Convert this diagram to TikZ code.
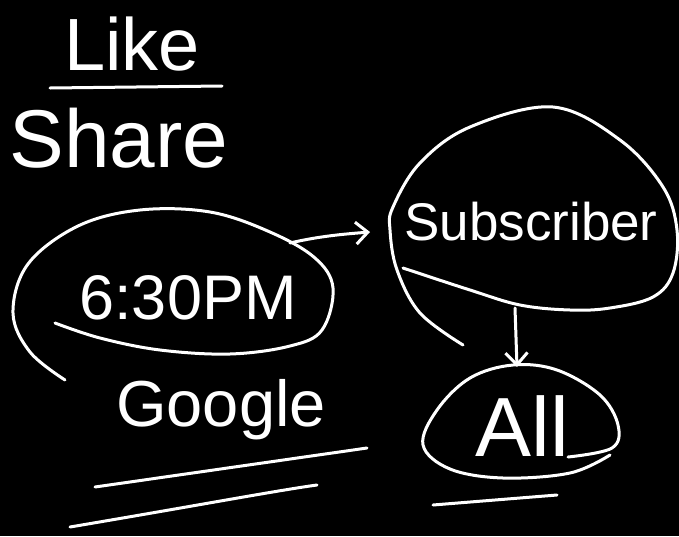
\documentclass[tikz,border=0pt]{standalone}
\usepackage{fontspec}
\setmainfont{Liberation Sans}
\usetikzlibrary{arrows.meta}
\begin{document}
\begin{tikzpicture}[x=1pt,y=-1pt,
  ink/.style={draw=white,line width=3pt,line cap=round,line join=round},
  word/.style={text=white,inner sep=0pt,anchor=center},
  link/.style={ink,-{Straight Barb[length=12pt,width=22pt]}}]
\fill[black] (0,0) rectangle (679,536);
\useasboundingbox (0,0) rectangle (679,536);
% texts
\node[word,font=\fontsize{74}{74}\selectfont] (like) at (132,44) {Like};
\node[word,font=\fontsize{82}{82}\selectfont] (share) at (119,138) {Share};
\node[word,font=\fontsize{63}{63}\selectfont] (time) at (188,298) {6:30PM};
\node[word,font=\fontsize{53}{53}\selectfont] (sub) at (531,222) {Subscriber};
\node[word,font=\fontsize{84}{84}\selectfont] (all) at (522,426) {All};
\node[word,font=\fontsize{65}{65}\selectfont] (google) at (221,410) {Google};
% underlines
\draw[ink] (50,88) -- (222,86);
\draw[ink] (95,487) -- (367,448);
\draw[ink] (70,527) .. controls (200,505) and (280,490) .. (317,485);
\draw[ink] (433,505) -- (557,495);
% loops
\draw[ink] plot[smooth,tension=0.6] coordinates {(65,380) (30,352) (13,313) (28,264) (78,226) (140,210) (210,212) (270,232) (315,258) (333,288) (322,330) (290,346) (230,354) (160,350) (100,338) (55,323)};
\draw[ink] plot[smooth,tension=0.6] coordinates {(463,345) (420,313) (397,270) (390,230) (393,207) (420,163) (470,127) (553,107) (620,140) (663,187) (677,230) (673,273) (653,297) (610,308) (570,310) (520,305) (470,290) (403,268)};
\draw[ink] plot[smooth,tension=0.6] coordinates {(568,457) (612,448) (618,425) (600,395) (557,370) (513,365) (470,378) (437,410) (423,445) (450,469) (503,478) (570,473) (610,455)};
% connectors
\coordinate (tout) at (290,243);
\coordinate (sin) at (370,232);
\coordinate (sout) at (515,308);
\coordinate (ain) at (517,367);
\draw[link] (tout) .. controls (320,236) and (345,234) .. (sin);
\draw[link] (sout) -- (ain);
\end{tikzpicture}
\end{document}
